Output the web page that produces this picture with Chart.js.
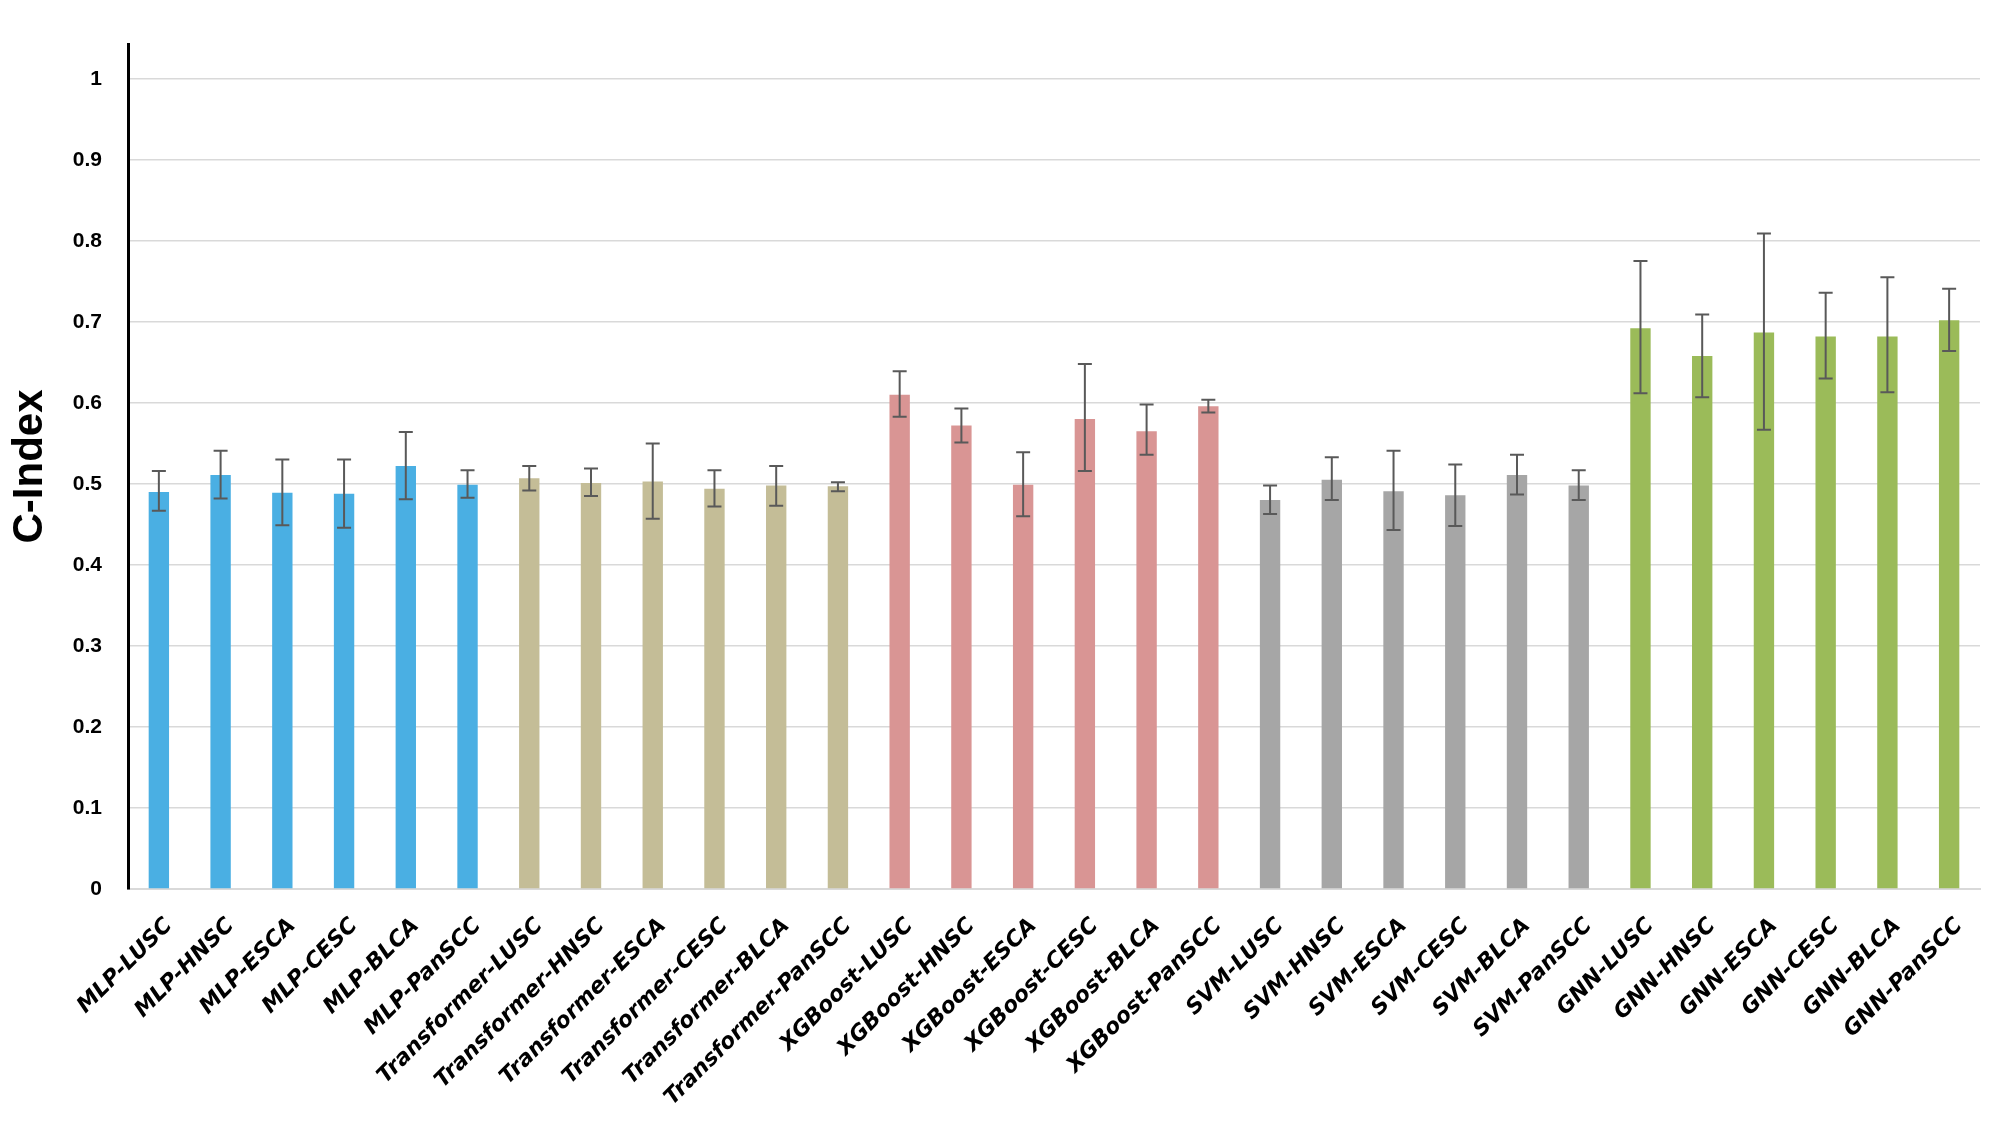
<!DOCTYPE html>
<html>
<head>
<meta charset="utf-8">
<script src="https://cdn.jsdelivr.net/npm/chart.js"></script>
<style>
  html, body { margin: 0; padding: 0; background: #fff; }
  #wrap { width: 1999px; height: 1124px; }
</style>
</head>
<body>
<div id="wrap"><canvas id="chart"></canvas></div>
<script>
// C-Index per model / cancer type
const labels = [
  'MLP-LUSC', 'MLP-HNSC', 'MLP-ESCA', 'MLP-CESC', 'MLP-BLCA', 'MLP-PanSCC',
  'Transformer-LUSC', 'Transformer-HNSC', 'Transformer-ESCA', 'Transformer-CESC', 'Transformer-BLCA', 'Transformer-PanSCC',
  'XGBoost-LUSC', 'XGBoost-HNSC', 'XGBoost-ESCA', 'XGBoost-CESC', 'XGBoost-BLCA', 'XGBoost-PanSCC',
  'SVM-LUSC', 'SVM-HNSC', 'SVM-ESCA', 'SVM-CESC', 'SVM-BLCA', 'SVM-PanSCC',
  'GNN-LUSC', 'GNN-HNSC', 'GNN-ESCA', 'GNN-CESC', 'GNN-BLCA', 'GNN-PanSCC'
];
const cIndex = [
  0.490, 0.511, 0.489, 0.488, 0.522, 0.499,
  0.507, 0.501, 0.503, 0.494, 0.498, 0.497,
  0.610, 0.572, 0.499, 0.580, 0.565, 0.596,
  0.480, 0.505, 0.491, 0.486, 0.511, 0.498,
  0.692, 0.658, 0.687, 0.682, 0.682, 0.702
];
// lower / upper ends of the error bars
const errLow = [
  0.467, 0.482, 0.449, 0.446, 0.481, 0.483,
  0.492, 0.485, 0.457, 0.472, 0.473, 0.491,
  0.583, 0.551, 0.460, 0.516, 0.536, 0.588,
  0.463, 0.480, 0.443, 0.448, 0.487, 0.480,
  0.612, 0.607, 0.567, 0.630, 0.613, 0.664
];
const errHigh = [
  0.516, 0.541, 0.530, 0.530, 0.564, 0.517,
  0.522, 0.519, 0.550, 0.517, 0.522, 0.502,
  0.639, 0.593, 0.539, 0.648, 0.598, 0.604,
  0.498, 0.533, 0.541, 0.524, 0.536, 0.517,
  0.775, 0.709, 0.809, 0.736, 0.755, 0.741
];

const modelColors = {
  MLP: '#4AAFE3',
  Transformer: '#C4BD97',
  XGBoost: '#D99594',
  SVM: '#A6A6A6',
  GNN: '#9BBB59'
};
const barColors = labels.map(l => modelColors[l.split('-')[0]]);

// draws the whiskers using the chart's own y scale
const errorBars = {
  id: 'errorBars',
  afterDatasetsDraw(chart) {
    const ctx = chart.ctx;
    const y = chart.scales.y;
    const meta = chart.getDatasetMeta(0);
    ctx.save();
    ctx.strokeStyle = '#595959';
    ctx.lineWidth = 2;
    const cap = 7;
    meta.data.forEach((bar, i) => {
      const x = bar.x;
      const yl = y.getPixelForValue(errLow[i]);
      const yh = y.getPixelForValue(errHigh[i]);
      ctx.beginPath();
      ctx.moveTo(x, yl); ctx.lineTo(x, yh);
      ctx.moveTo(x - cap, yl); ctx.lineTo(x + cap, yl);
      ctx.moveTo(x - cap, yh); ctx.lineTo(x + cap, yh);
      ctx.stroke();
    });
    ctx.restore();
  }
};

new Chart(document.getElementById('chart'), {
  type: 'bar',
  data: {
    labels: labels,
    datasets: [{
      data: cIndex,
      backgroundColor: barColors,
      borderWidth: 0,
      categoryPercentage: 1,
      barPercentage: 0.33
    }]
  },
  options: {
    responsive: true,
    maintainAspectRatio: false,
    animation: false,
    layout: { padding: { top: 44, right: 19, left: 0, bottom: 0 } },
    plugins: {
      legend: { display: false },
      tooltip: { enabled: false }
    },
    scales: {
      x: {
        grid: { display: false },
        border: { display: true, color: '#D9D9D9', width: 2 },
        afterFit(scale) { scale.height = 235; },
        ticks: {
          autoSkip: false,
          minRotation: 45,
          maxRotation: 45,
          padding: 16,
          labelOffset: 10,
          color: '#000',
          font: { family: 'DejaVu Sans', size: 22, weight: 'bold', style: 'italic' }
        }
      },
      y: {
        min: 0,
        max: 1.043,
        afterFit(scale) { scale.width = 128; },
        afterBuildTicks(scale) {
          scale.ticks = scale.ticks.filter(t => t.value <= 1.0001);
        },
        grid: { color: '#D9D9D9', lineWidth: 1.5, drawTicks: false },
        border: { display: true, color: '#000', width: 3 },
        ticks: {
          stepSize: 0.1,
          padding: 26,
          color: '#000',
          callback: v => String(Math.round(v * 10) / 10),
          font: { family: 'Liberation Sans', size: 21, weight: 'bold' }
        },
        title: {
          display: true,
          text: 'C-Index',
          color: '#000',
          padding: { top: 5, bottom: 0 },
          font: { family: 'Liberation Sans', size: 42, weight: 'bold' }
        }
      }
    }
  },
  plugins: [errorBars]
});
</script>
</body>
</html>
